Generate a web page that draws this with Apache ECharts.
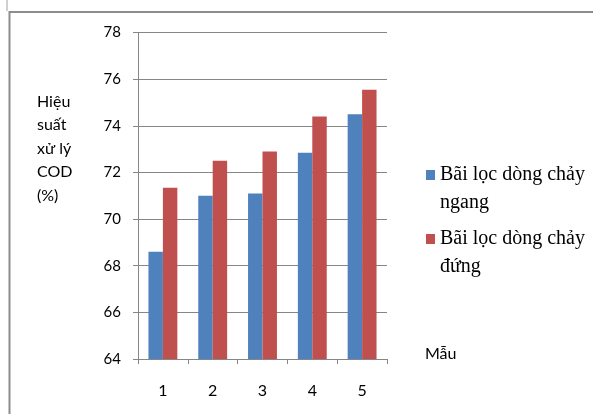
<!DOCTYPE html>
<html>
<head>
<meta charset="utf-8">
<script src="https://cdn.jsdelivr.net/npm/echarts@6/dist/echarts.min.js"></script>
<style>
  html, body { margin: 0; padding: 0; background: #fff; }
  #chart { width: 593px; height: 414px; }
</style>
</head>
<body>
<div id="chart"></div>
<script>
// Sample numbers on the category axis
const categories = ['1', '2', '3', '4', '5'];
// COD removal efficiency (%) for each filter type
const seriesNames = ['Bãi lọc dòng chảy ngang', 'Bãi lọc dòng chảy đứng'];
const horizontalFlow = [68.6, 71.0, 71.1, 72.85, 74.5];
const verticalFlow = [71.35, 72.5, 72.9, 74.4, 75.55];
const seriesColors = ['#4F81BD', '#C0504D'];
// Value-axis range
const yMin = 64, yMax = 78, yStep = 2;

const sansFont = 'Lato, "Open Sans", sans-serif';
const serifFont = '"Liberation Serif", "DejaVu Serif", serif';
const legendLine = 28;

// One legend block per series; the name wraps onto two lines and the
// swatch lines up with the first of them (a blank leading line keeps
// the first text line on the swatch's centre).
function legendFor(name, iconCenterY) {
  return {
    data: [name],
    orient: 'vertical',
    left: 426,
    top: iconCenterY - 1.5 * legendLine,
    padding: 0,
    itemWidth: 9,
    itemHeight: 10,
    itemGap: 0,
    icon: 'rect',
    selectedMode: false,
    formatter: function (n) {
      return '\u00a0\n' + n.replace(' chảy ', ' chảy\n');
    },
    textStyle: {
      fontFamily: serifFont,
      fontSize: 20,
      color: '#000',
      lineHeight: legendLine
    }
  };
}

const chart = echarts.init(document.getElementById('chart'), null, { renderer: 'canvas' });
chart.setOption({
  animation: false,
  backgroundColor: '#fff',
  grid: { left: 138, top: 32.6, right: 206, bottom: 55, containLabel: false },
  legend: [
    legendFor(seriesNames[0], 175),
    legendFor(seriesNames[1], 239)
  ],
  xAxis: {
    type: 'category',
    data: categories,
    axisLine: { lineStyle: { color: '#868686', width: 1 } },
    axisTick: { show: true, length: 5, lineStyle: { color: '#868686' } },
    axisLabel: { color: '#000', fontFamily: sansFont, fontSize: 16, margin: 24 },
    splitLine: { show: false }
  },
  yAxis: {
    type: 'value',
    min: yMin,
    max: yMax,
    interval: yStep,
    axisLine: { show: true, lineStyle: { color: '#868686', width: 1 } },
    axisTick: { show: true, length: 5, lineStyle: { color: '#868686' } },
    axisLabel: { color: '#000', fontFamily: sansFont, fontSize: 15, margin: 17 },
    splitLine: { show: true, lineStyle: { color: '#868686', width: 1 } }
  },
  series: [
    {
      name: seriesNames[0],
      type: 'bar',
      data: horizontalFlow,
      itemStyle: { color: seriesColors[0] },
      barGap: '0%',
      barCategoryGap: '42%'
    },
    {
      name: seriesNames[1],
      type: 'bar',
      data: verticalFlow,
      itemStyle: { color: seriesColors[1] },
      barGap: '0%',
      barCategoryGap: '42%'
    }
  ],
  graphic: [
    // outer frame
    {
      type: 'rect',
      shape: { x: 9.5, y: 12, width: 700, height: 500 },
      style: { fill: 'none', stroke: '#8c8c8c', lineWidth: 2 },
      silent: true
    },
    {
      type: 'line',
      shape: { x1: 7, y1: 0, x2: 7, y2: 11 },
      style: { stroke: '#a0a0a0', lineWidth: 1 },
      silent: true
    },
    // value-axis title
    {
      type: 'text',
      left: 37,
      top: 90,
      style: {
        text: 'Hiệu\nsuất\nxử lý\nCOD\n(%)',
        fontFamily: sansFont,
        fontSize: 16,
        lineHeight: 23.5,
        fill: '#000'
      },
      silent: true
    },
    // category-axis title
    {
      type: 'text',
      left: 425,
      top: 346,
      style: {
        text: 'Mẫu',
        fontFamily: sansFont,
        fontSize: 16,
        fill: '#000'
      },
      silent: true
    }
  ]
});
</script>
</body>
</html>
